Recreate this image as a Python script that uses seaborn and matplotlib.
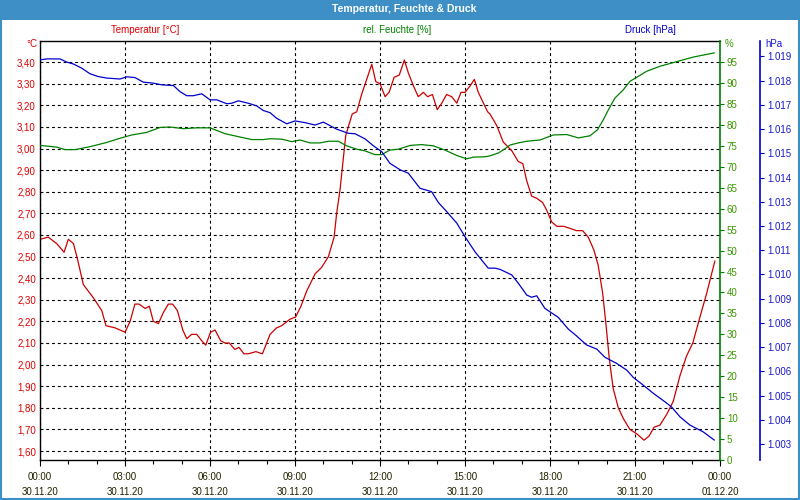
import numpy as np
import pandas as pd
import matplotlib
matplotlib.use("Agg")
import matplotlib.pyplot as plt
import seaborn as sns
from matplotlib.ticker import FuncFormatter, FixedLocator
from matplotlib.patches import Rectangle

# ---------------- data (hours since 30.11.20 00:00) ----------------
temp_hours = [0.00, 0.29, 0.59, 0.85, 1.00, 1.18, 1.32, 1.53, 1.88, 2.18, 2.33, 2.65, 3.00, 3.18,
              3.35, 3.50, 3.71, 3.86, 4.00, 4.18, 4.35, 4.53, 4.68, 4.85, 5.04, 5.18, 5.35, 5.53,
              5.71, 5.85, 6.02, 6.18, 6.38, 6.53, 6.68, 6.88, 7.02, 7.20, 7.35, 7.62, 7.85, 7.94,
              8.12, 8.35, 8.53, 8.82, 9.02, 9.21, 9.41, 9.71, 9.94, 10.18, 10.38, 10.47, 10.59,
              10.70, 10.79, 10.88, 11.02, 11.18, 11.35, 11.53, 11.71, 11.85, 12.00, 12.18, 12.32,
              12.50, 12.68, 12.86, 13.00, 13.18, 13.35, 13.53, 13.68, 13.85, 14.02, 14.18, 14.35,
              14.53, 14.71, 14.86, 15.00, 15.18, 15.33, 15.47, 15.65, 15.80, 15.88, 16.06, 16.14,
              16.35, 16.65, 16.88, 17.04, 17.18, 17.35, 17.53, 17.74, 17.90, 18.06, 18.24, 18.49,
              18.71, 18.94, 19.15, 19.35, 19.55, 19.70, 19.86, 19.98, 20.09, 20.23, 20.41, 20.59,
              20.82, 21.06, 21.32, 21.50, 21.67, 21.88, 22.12, 22.35, 22.59, 22.82, 23.04, 23.27,
              23.53, 23.82]
temp_values = [2.58, 2.59, 2.56, 2.52, 2.58, 2.56, 2.49, 2.37, 2.31, 2.25, 2.18, 2.17, 2.15, 2.20,
               2.28, 2.28, 2.26, 2.27, 2.20, 2.19, 2.24, 2.28, 2.28, 2.25, 2.16, 2.12, 2.14, 2.14,
               2.11, 2.09, 2.15, 2.16, 2.11, 2.10, 2.10, 2.07, 2.08, 2.05, 2.05, 2.06, 2.05, 2.08,
               2.14, 2.17, 2.18, 2.21, 2.22, 2.27, 2.34, 2.42, 2.45, 2.50, 2.59, 2.70, 2.81,
               2.95, 3.06, 3.10, 3.16, 3.17, 3.25, 3.32, 3.39, 3.31, 3.30, 3.24, 3.26,
               3.33, 3.34, 3.41, 3.35, 3.29, 3.24, 3.26, 3.24, 3.25, 3.18, 3.21, 3.25,
               3.24, 3.21, 3.26, 3.26, 3.29, 3.32, 3.26, 3.21, 3.17, 3.16, 3.12, 3.10,
               3.03, 2.99, 2.94, 2.93, 2.85, 2.78, 2.77, 2.75, 2.71, 2.66, 2.64, 2.64,
               2.63, 2.62, 2.62, 2.59, 2.53, 2.46, 2.33, 2.18, 2.03, 1.89, 1.80, 1.75,
               1.70, 1.68, 1.65, 1.67, 1.71, 1.72, 1.77, 1.83, 1.95, 2.04, 2.10, 2.21,
               2.33, 2.48]

hum_hours = [0.00, 0.59, 0.88, 1.24, 1.76, 2.35, 2.82, 3.24, 3.76, 4.24, 4.59, 5.06, 5.53, 6.00,
             6.53, 7.00, 7.47, 7.88, 8.12, 8.53, 8.88, 9.18, 9.53, 9.88, 10.18, 10.53, 10.82,
             11.18, 11.47, 11.82, 12.06, 12.35, 12.65, 13.06, 13.47, 13.88, 14.29, 14.71, 15.06,
             15.29, 15.71, 15.88, 16.18, 16.41, 16.59, 16.88, 17.18, 17.65, 18.12, 18.59, 19.00,
             19.41, 19.67, 19.88, 20.06, 20.29, 20.59, 20.82, 21.12, 21.41, 21.88, 22.47, 23.06,
             23.80]
hum_values = [75.1, 74.7, 74.1, 74.1, 74.8, 75.8, 76.8, 77.6, 78.2, 79.4, 79.5, 79.1, 79.3, 79.3,
              77.9, 77.2, 76.5, 76.5, 76.7, 76.6, 76.0, 76.4, 75.7, 75.7, 76.1, 76.1, 75.0,
              74.2, 73.8, 72.9, 72.9, 74.0, 74.2, 75.1, 75.3, 75.0, 74.0, 72.7, 71.9,
              72.3, 72.4, 72.6, 73.3, 74.3, 75.2, 75.7, 76.1, 76.4, 77.6, 77.7, 76.9,
              77.4, 78.8, 81.2, 83.6, 86.4, 88.4, 90.4, 91.6, 92.8, 94.0, 95.1, 96.2,
              97.2]

press_hours = [0.00, 0.24, 0.71, 0.94, 1.18, 1.47, 1.76, 2.06, 2.35, 2.82, 3.06, 3.35, 3.65, 4.00,
               4.29, 4.71, 4.94, 5.18, 5.41, 5.71, 6.00, 6.24, 6.59, 6.77, 7.00, 7.35, 7.65, 7.88,
               8.12, 8.35, 8.71, 9.00, 9.35, 9.71, 10.00, 10.47, 10.88, 11.12, 11.47, 11.76, 12.06,
               12.35, 12.71, 13.00, 13.41, 13.82, 14.06, 14.35, 14.71, 15.00, 15.35, 15.82, 16.06,
               16.24, 16.65, 16.88, 17.18, 17.35, 17.53, 17.82, 18.29, 18.65, 18.94, 19.29, 19.65,
               19.94, 20.35, 20.71, 20.94, 21.29, 21.65, 22.06, 22.29, 22.59, 22.94, 23.41, 23.80]
press_values = [1018.86, 1018.90, 1018.90, 1018.77, 1018.69, 1018.52, 1018.29, 1018.17, 1018.11,
                1018.07, 1018.16, 1018.13, 1017.94, 1017.90, 1017.83, 1017.80, 1017.55, 1017.38,
                1017.38, 1017.46, 1017.21, 1017.21, 1017.05, 1017.07, 1017.17, 1017.07, 1016.96,
                1016.77, 1016.68, 1016.45, 1016.22, 1016.34, 1016.27, 1016.17, 1016.29, 1016.00,
                1015.83, 1015.81, 1015.60, 1015.32, 1015.07, 1014.59, 1014.32, 1014.18, 1013.56,
                1013.42, 1012.97, 1012.60, 1012.12, 1011.56, 1010.94, 1010.26, 1010.26, 1010.21,
                1009.98, 1009.64, 1009.15, 1009.06, 1009.12, 1008.60, 1008.23, 1007.74, 1007.46,
                1007.09, 1006.92, 1006.58, 1006.33, 1006.05, 1005.75, 1005.43, 1005.09, 1004.74,
                1004.53, 1004.12, 1003.78, 1003.50, 1003.16]

x_ticks = [0, 3, 6, 9, 12, 15, 18, 21, 24]
x_tick_labels = ["00:00\n30.11.20", "03:00\n30.11.20", "06:00\n30.11.20", "09:00\n30.11.20",
                 "12:00\n30.11.20", "15:00\n30.11.20", "18:00\n30.11.20", "21:00\n30.11.20",
                 "00:00\n01.12.20"]
temp_ticks = [1.6, 1.7, 1.8, 1.9, 2.0, 2.1, 2.2, 2.3, 2.4, 2.5, 2.6, 2.7, 2.8, 2.9, 3.0, 3.1,
              3.2, 3.3, 3.4]
hum_ticks = [0, 5, 10, 15, 20, 25, 30, 35, 40, 45, 50, 55, 60, 65, 70, 75, 80, 85, 90, 95]
press_ticks = [1003, 1004, 1005, 1006, 1007, 1008, 1009, 1010, 1011, 1012, 1013, 1014, 1015,
               1016, 1017, 1018, 1019]

title = "Temperatur, Feuchte & Druck"

# ---------------- style ----------------
sns.set_theme(style="white")
plt.rcParams['font.family'] = ['Liberation Sans', 'DejaVu Sans']
plt.rcParams['font.size'] = 7

RED = "#cc0000"
RED_TXT = "#e00000"
GREEN = "#008000"
GREEN_TXT = "#3c9600"
BLUE = "#0000cc"
BLUE_TXT = "#1a1acc"
FRAME = "#3d8fc6"

W, H = 800, 500
fig = plt.figure(figsize=(8, 5), dpi=100)
fig.patch.set_facecolor("white")

# frame and title bar
fig.patches.append(Rectangle((0, 1 - 20 / H), 1, 20 / H, transform=fig.transFigure,
                             facecolor=FRAME, edgecolor="none", zorder=0))
fig.patches.append(Rectangle((1 / W, 1 / H), 1 - 2 / W, 1 - 2 / H, transform=fig.transFigure,
                             facecolor="none", edgecolor=FRAME, linewidth=1.5, zorder=0))
fig.text(0.505, 1 - 9.5 / H, title, color="white", fontsize=7.5, fontweight="bold",
         ha="center", va="center")

left, right, bottom, top = 40 / W, 720 / W, 40 / H, 1 - 40.5 / H
ax = fig.add_axes([left, bottom, right - left, top - bottom])
ax2 = ax.twinx()
ax3 = ax.twinx()

df_t = pd.DataFrame({"h": temp_hours, "v": temp_values})
df_h = pd.DataFrame({"h": hum_hours, "v": hum_values})
df_p = pd.DataFrame({"h": press_hours, "v": press_values})

sns.lineplot(data=df_t, x="h", y="v", ax=ax, color=RED, linewidth=0.9, estimator=None, sort=False)
sns.lineplot(data=df_h, x="h", y="v", ax=ax2, color=GREEN, linewidth=0.9, estimator=None, sort=False)
sns.lineplot(data=df_p, x="h", y="v", ax=ax3, color=BLUE, linewidth=0.9, estimator=None, sort=False)

for a in (ax, ax2, ax3):
    a.set_xlabel("")
    a.set_ylabel("")
    a.set_xlim(0, 24)

ax.set_ylim(1.5585, 3.50)
ax2.set_ylim(0, 100.15)
ax3.set_ylim(1002.34, 1019.66)

# grid
ax.yaxis.set_major_locator(FixedLocator(temp_ticks))
ax.xaxis.set_major_locator(FixedLocator(x_ticks))
ax.xaxis.set_minor_locator(FixedLocator(list(range(0, 25))))
ax.set_xticklabels(x_tick_labels, linespacing=1.6)
ax.grid(True, which="major", color="black", linestyle=(0, (2.6, 2.6)), linewidth=0.8)
ax.yaxis.set_major_formatter(FuncFormatter(lambda v, p: f"{v:.2f}".replace(".", ",")))
ax.tick_params(axis="y", which="both", length=0, pad=3, labelcolor=RED_TXT, labelsize=7)
ax.tick_params(axis="x", which="major", direction="out", length=4, width=0.8, color="black",
               bottom=True, pad=5, labelcolor="#222200", labelsize=7)
ax.tick_params(axis="x", which="minor", direction="out", length=3, width=0.8, color="black",
               bottom=True)
for s in ("left", "top", "bottom"):
    ax.spines[s].set_color("black")
    ax.spines[s].set_linewidth(1.0)
ax.spines["right"].set_visible(False)

# humidity axis
ax2.yaxis.set_major_locator(FixedLocator(hum_ticks))
ax2.tick_params(axis="y", direction="out", length=3, width=0.8, color=GREEN, pad=2,
                labelcolor=GREEN_TXT, labelsize=7)
for s in ("left", "top", "bottom"):
    ax2.spines[s].set_visible(False)
ax2.spines["right"].set_color(GREEN)
ax2.spines["right"].set_linewidth(1.2)
ax2.grid(False)

# pressure axis
ax3.spines["right"].set_position(("axes", (760 - 40) / 680))
ax3.yaxis.set_major_locator(FixedLocator(press_ticks))
ax3.yaxis.set_major_formatter(FuncFormatter(lambda v, p: f"{v / 1000:.3f}"))
ax3.tick_params(axis="y", direction="out", length=3, width=0.8, color=BLUE, pad=2,
                labelcolor=BLUE_TXT, labelsize=7)
for s in ("left", "top", "bottom"):
    ax3.spines[s].set_visible(False)
ax3.spines["right"].set_color(BLUE)
ax3.spines["right"].set_linewidth(1.2)
ax3.grid(False)

# header labels and units
fig.text(145 / W, 1 - 30 / H, "Temperatur [°C]", color=RED_TXT, fontsize=7, ha="center", va="center")
fig.text(397 / W, 1 - 30 / H, "rel. Feuchte [%]", color=GREEN, fontsize=7, ha="center", va="center")
fig.text(650 / W, 1 - 30 / H, "Druck [hPa]", color=BLUE, fontsize=7, ha="center", va="center")
fig.text(37 / W, 1 - 44 / H, "°C", color=RED_TXT, fontsize=7, ha="right", va="center")
fig.text(725 / W, 1 - 44 / H, "%", color=GREEN_TXT, fontsize=7, ha="left", va="center")
fig.text(765 / W, 1 - 44 / H, "hPa", color=BLUE_TXT, fontsize=7, ha="left", va="center")

fig.savefig("out.png", dpi=100, facecolor="white")
